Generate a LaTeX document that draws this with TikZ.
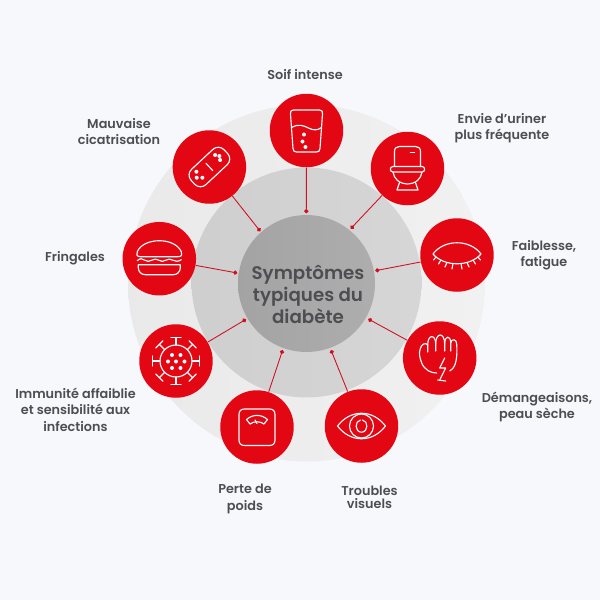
\documentclass[tikz,border=0pt]{standalone}
\usepackage{fontspec}
\setmainfont{Poppins}[UprightFont=* SemiBold,BoldFont=* Bold]
\usetikzlibrary{arrows.meta,calc}
\definecolor{fond}{HTML}{F7F8FC}
\definecolor{rouge}{HTML}{E30613}
\definecolor{lien}{HTML}{D01020}
\definecolor{texte}{HTML}{4E4E52}

\begin{document}
\begin{tikzpicture}[
		x=0.02cm, y=-0.02cm,
		ring/.style={circle, inner sep=0pt},
		symptom/.style={circle, fill=rouge, inner sep=0pt, minimum size=1.47cm},
		label/.style={align=center, text=texte, font=\fontsize{7.3}{9.35}\selectfont},
		link/.style={draw=lien, line width=0.5pt, -{Circle[length=2.4pt]}},
		icon/.style={draw=white, line width=0.65pt, line join=round, line cap=round},
		dot/.style={fill=white}
		]
		
		\fill[fond] (0,0) rectangle (600,600);
		
		% Les anneaux
		\node[ring, left color=black!8.5, right color=black!5.5, minimum size=7.14cm] (outer) at (306.5,283) {};
		\node[ring, left color=black!19, right color=black!16, minimum size=4.6cm] (middle) at (306.5,282.5) {};
		\node[ring, left color=black!36, right color=black!32, minimum size=2.74cm] (core) at (306.5,283.5) {};
		\node[align=center, text=texte, font=\fontsize{10.4}{12.5}\selectfont] (coreText) at (308,294) {Symptômes\\typiques du\\diabète};
		
		% Les symptomes
		\node[symptom] (thirst) at (306.5,130.5) {};
		\node[symptom] (toilet) at (407.5,168.5) {};
		\node[symptom] (lid) at (457,255) {};
		\node[symptom] (fist) at (439.7,358) {};
		\node[symptom] (eye) at (361.5,426) {};
		\node[symptom] (scale) at (257,427) {};
		\node[symptom] (virus) at (176,361) {};
		\node[symptom] (burger) at (159.3,258.7) {};
		\node[symptom] (bandage) at (209.4,167) {};
		
		% Les extremites sur le disque central
		\coordinate (thirstEnd) at (306.3,213.3);
		\coordinate (toiletEnd) at (350.7,228.7);
		\coordinate (lidEnd) at (375.3,270.7);
		\coordinate (fistEnd) at (368.3,319);
		\coordinate (eyeEnd) at (331,350);
		\coordinate (scaleEnd) at (282.7,350);
		\coordinate (virusEnd) at (246,319.3);
		\coordinate (burgerEnd) at (237.3,273);
		\coordinate (bandageEnd) at (260.3,231.3);
		
		% Les liens
		\draw[link] (thirst) -- (thirstEnd);
		\draw[link] (toilet) -- (toiletEnd);
		\draw[link] (lid) -- (lidEnd);
		\draw[link] (fist) -- (fistEnd);
		\draw[link] (eye) -- (eyeEnd);
		\draw[link] (scale) -- (scaleEnd);
		\draw[link] (virus) -- (virusEnd);
		\draw[link] (burger) -- (burgerEnd);
		\draw[link] (bandage) -- (bandageEnd);
		
		% Les textes
		\node[label] (thirstText) at (305,75) {Soif intense};
		\node[label] (toiletText) at (502,128) {Envie d’uriner\\plus fréquente};
		\node[label] (lidText) at (544,255) {Faiblesse,\\fatigue};
		\node[label] (fistText) at (537,407) {Démangeaisons,\\peau sèche};
		\node[label] (eyeText) at (369.5,497.5) {Troubles\\[-1.9pt]visuels};
		\node[label] (scaleText) at (245,499) {Perte de\\poids};
		\node[label] (virusText) at (75.5,409.5) {Immunité affaiblie\\et sensibilité aux\\infections};
		\node[label] (burgerText) at (75,258.5) {Fringales};
		\node[label] (bandageText) at (119,131.5) {Mauvaise\\cicatrisation};
		
		% Verre
		\begin{scope}[shift={(thirst.center)}]
			\draw[icon] (-13,-20.5) -- (13,-20.5) .. controls (15.5,-20.5) and (16.5,-19) .. (16,-16.5) -- (13.5,18) .. controls (13.3,20.5) and (12,21.5) .. (10,21.5) -- (-10,21.5) .. controls (-12,21.5) and (-13.3,20.5) .. (-13.5,18) -- (-16,-16.5) .. controls (-16.5,-19) and (-15.5,-20.5) .. (-13,-20.5);
			\draw[icon] (-15,-3) .. controls (-8,-7) and (-3,-5) .. (2,-2.5) .. controls (7,0) and (11,0) .. (15,-3);
			\fill[dot] (-2.5,4) circle (2);
			\fill[dot] (-4,11) circle (2);
			\fill[dot] (-1,16.5) circle (2);
		\end{scope}
		
		% Toilettes
		\begin{scope}[shift={(toilet.center)}]
			\draw[icon] (-13,-2) -- (-13,-17) .. controls (-13,-20.5) and (-11,-22) .. (-8,-22) -- (8,-22) .. controls (11,-22) and (13,-20.5) .. (13,-17) -- (13,-2);
			\draw[icon] (-14.5,-2) -- (14.5,-2) .. controls (18,-2) and (18,3.5) .. (14.5,3.5) -- (-14.5,3.5) .. controls (-18,3.5) and (-18,-2) .. (-14.5,-2);
			\draw[icon] (-14.5,3.5) .. controls (-13.5,10) and (-9,15) .. (0,15.5) .. controls (9,15) and (13.5,10) .. (14.5,3.5);
			\draw[icon] (-8,14) -- (-10.5,21.5) -- (10.5,21.5) -- (8,14);
			\draw[icon] (3,-16) -- (7,-16);
		\end{scope}
		
		% Oeil ferme
		\begin{scope}[shift={(lid.center)}]
			\draw[icon] (-24,-1) .. controls (-13,-16) and (13,-16) .. (24,-1) .. controls (13,12) and (-13,12) .. (-24,-1);
			\foreach \xa/\ya/\xb/\yb in {-21/2/-23.5/5, -16/5/-18.5/9, -10/7.5/-12/12, -4/8.5/-5/14, 4/8.5/5/14, 10/7.5/12/12, 16/5/18.5/9, 21/2/23.5/5}
				\draw[icon] (\xa,\ya) -- (\xb,\yb);
		\end{scope}
		
		% Poing
		\begin{scope}[shift={(fist.center)}]
			\draw[icon] (-3,15) .. controls (-9,15) and (-15,12) .. (-18,5) .. controls (-20,0) and (-21,-5) .. (-19.5,-9) .. controls (-18.5,-14) and (-14,-16) .. (-12,-13) -- (-12,-6);
			\draw[icon] (-12,-13) .. controls (-12,-24) and (-4,-24) .. (-4,-14) -- (-4,-7);
			\draw[icon] (-4,-14) .. controls (-4,-26) and (5,-26) .. (5,-14) -- (5,-7);
			\draw[icon] (5,-14) .. controls (5,-23) and (11,-23) .. (11,-15) -- (11,-7);
			\draw[icon] (11,-15) .. controls (12,-20) and (17,-19) .. (17,-14) .. controls (17.5,-5) and (17,2) .. (15.5,6) .. controls (14,10) and (12,12) .. (10,13);
			\draw[icon] (5,0) -- (0,10) -- (6,10) -- (0,22) (-2,22) -- (6,23);
		\end{scope}
		
		% Oeil
		\begin{scope}[shift={(eye.center)}]
			\draw[icon] (-24,0) .. controls (-11,-17) and (11,-17) .. (24,0) .. controls (11,17) and (-11,17) .. (-24,0);
			\draw[icon] (0,0) circle (12);
			\draw[icon] (-1,-6) .. controls (-7,-5) and (-7,6) .. (0,6.2) .. controls (7,6) and (7,-5) .. (1,-6);
		\end{scope}
		
		% Balance
		\begin{scope}[shift={(scale.center)}]
			\draw[icon] (-12.5,-18) -- (12.5,-18) .. controls (16,-18) and (18,-16) .. (18,-12.5) -- (18,13) .. controls (18,16.5) and (16,18.5) .. (12.5,18.5) -- (-12.5,18.5) .. controls (-16,18.5) and (-18,16.5) .. (-18,13) -- (-18,-12.5) .. controls (-18,-16) and (-16,-18) .. (-12.5,-18);
			\draw[icon] (-10.5,-7.5) .. controls (-4,-13) and (4,-13) .. (10.5,-7.5) -- (7,-3) .. controls (3,-6) and (-3,-6) .. (-7,-3) -- (-10.5,-7.5);
			\draw[icon] (-2,-7) -- (0,-3.5);
		\end{scope}
		
		% Virus
		\begin{scope}[shift={(virus.center)}]
			\draw[icon] (0,0) circle (16);
			\foreach \a in {0,45,...,315} {
				\draw[icon] (\a:16) -- (\a:23.5);
				\draw[icon] ($(\a:23.5)+(\a+90:5)$) -- ($(\a:23.5)+(\a-90:5)$);
			}
			\foreach \xa/\ya in {-4/-6, 4.5/-6, -8/0.5, 0/0.5, 8.5/0.5, -4/7, 4.5/7}
				\fill[dot] (\xa,\ya) circle (2);
		\end{scope}
		
		% Burger
		\begin{scope}[shift={(burger.center)}]
			\draw[icon] (-19,-2) .. controls (-23,-2) and (-23,-5) .. (-22,-7) .. controls (-19,-14) and (-10,-18) .. (0,-18) .. controls (10,-18) and (19,-14) .. (22,-7) .. controls (23,-5) and (23,-2) .. (19,-2) -- (-19,-2);
			\draw[icon] (-22,2) .. controls (-19,-1) and (-17,0) .. (-14.5,1.5) .. controls (-12,3) and (-10,3) .. (-7.5,1.5) .. controls (-5,0) and (-3,0) .. (-0.5,1.5) .. controls (2,3) and (4,3) .. (6.5,1.5) .. controls (9,0) and (11,0) .. (13.5,1.5) .. controls (16,3) and (19,3) .. (22,1);
			\draw[icon] (-21,6) -- (21,6) -- (21,9) .. controls (21,13) and (18,16) .. (14,16) -- (-14,16) .. controls (-18,16) and (-21,13) .. (-21,9) -- (-21,6);
		\end{scope}
		
		% Pansement
		\begin{scope}[shift={(bandage.center)}]
			\begin{scope}[rotate=43]
				\draw[icon, rounded corners=4.5pt] (-22.5,-10.5) rectangle (22.5,10.5);
				\draw[icon] (0,-5) -- (0,5);
			\end{scope}
			\foreach \xa/\ya in {5.7/-12, 10/-11, 10.7/-7, -13/4.7, -12.7/10.7, -7/10.7}
				\fill[dot] (\xa,\ya) circle (2);
		\end{scope}
	\end{tikzpicture}
\end{document}
